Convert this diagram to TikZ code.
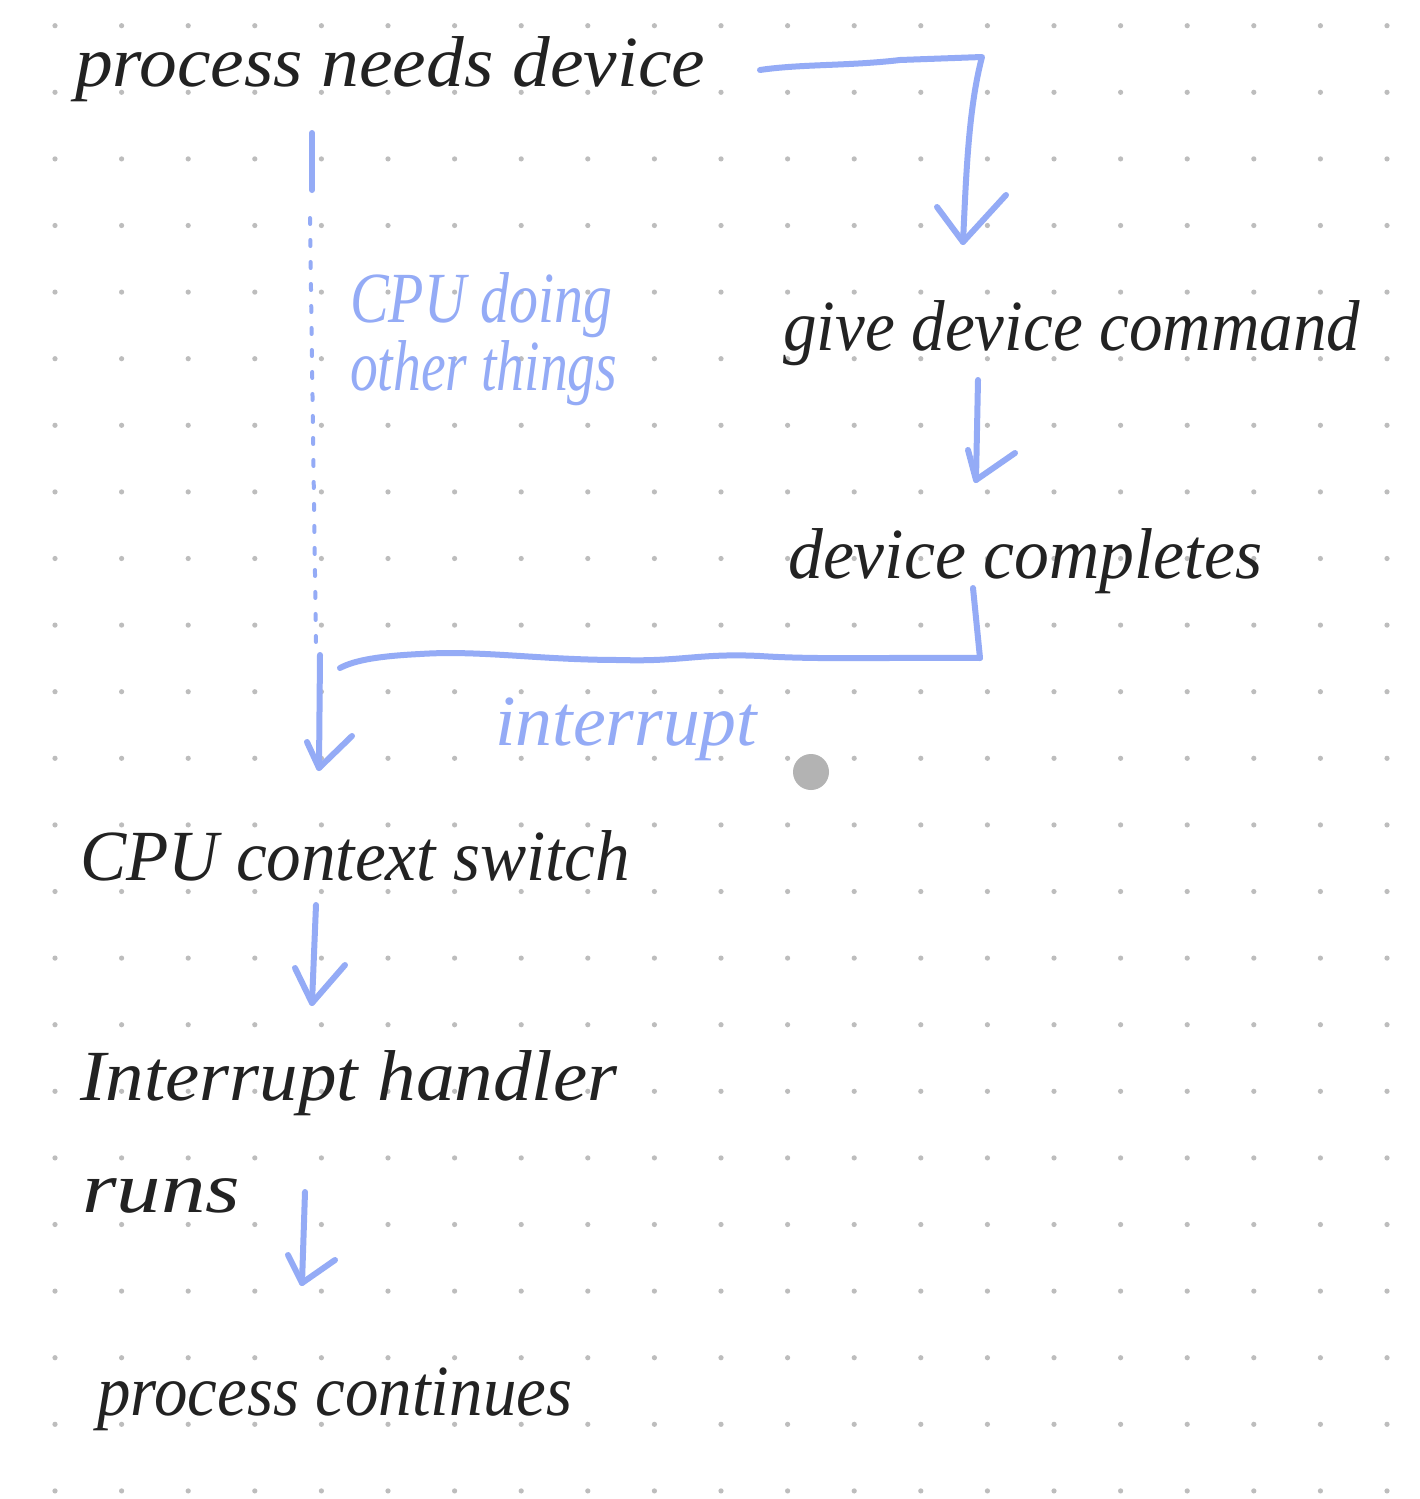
\documentclass[tikz,border=0pt]{standalone}
\usepackage{fontspec}
\setmainfont{Liberation Serif}
\usepackage{graphicx}
\definecolor{ink}{HTML}{222222}
\definecolor{pen}{HTML}{94ABF6}
\definecolor{gridc}{HTML}{BDBDBD}
\definecolor{blob}{HTML}{B3B3B3}
\newcommand\fitw[2]{\resizebox{#1pt}{\height}{#2}}
\begin{document}
\begin{tikzpicture}[x=1pt,y=-1pt,
  hand/.style={inner sep=0pt, anchor=base west, text=ink, font=\fontsize{72}{80}\selectfont\itshape},
  bluehand/.style={hand, text=pen},
  flow/.style={draw=pen, line width=6pt, line cap=round, line join=round},
  dotline/.style={draw=pen, line width=4pt, line cap=round, dash pattern=on 6pt off 16pt}]
\useasboundingbox (0,0) rectangle (1419,1499);
\fill[white] (0,0) rectangle (1419,1499);
\foreach \i in {0,...,20} \foreach \j in {0,...,22} \fill[gridc] ({55+66.6*\i},{25.7+66.6*\j}) circle (2.6);

% texts
\node[hand] (proc) at (75,86) {\fitw{630}{process needs device}};
\node[hand] (give) at (783,350) {\fitw{577}{give device command}};
\node[hand] (done) at (788,578) {\fitw{474}{device completes}};
\node[hand] (ctx) at (80,880) {\fitw{550}{CPU context switch}};
\node[hand] (handler) at (80,1100) {\fitw{537}{Interrupt handler}};
\node[hand] (runs) at (82,1212) {\fitw{158}{runs}};
\node[hand] (cont) at (97,1415) {\fitw{475}{process continues}};
\node[bluehand] (cpu1) at (350,322) {\fitw{262}{CPU doing}};
\node[bluehand] (cpu2) at (350,390) {\fitw{267}{other things}};
\node[bluehand] (intl) at (495,745) {\fitw{262}{interrupt}};

% top arrow: process needs device -> give device command
\coordinate (a1s) at (760,70);
\coordinate (a1c) at (982,57);
\coordinate (a1t) at (963,242);
\draw[flow] (a1s) .. controls (800,64) and (850,66) .. (900,60) -- (a1c) .. controls (968,110) and (966,180) .. (a1t);
\draw[flow] (937,207) -- (a1t) -- (1006,195);

% give device command -> device completes
\coordinate (a2s) at (978,380);
\coordinate (a2t) at (976,480);
\draw[flow] (a2s) -- (a2t);
\draw[flow] (968,450) -- (a2t) -- (1015,453);

% CPU waiting line
\coordinate (l0) at (312,133);
\coordinate (l1) at (312,190);
\coordinate (l2) at (310,218);
\coordinate (l3) at (316,645);
\draw[flow] (l0) -- (l1);
\draw[dotline] (l2) -- (l3);

% device completes -> interrupt line
\coordinate (b0) at (973,588);
\coordinate (b1) at (980,658);
\coordinate (b2) at (340,668);
\draw[flow] (b0) -- (b1);
\draw[flow] (b1) .. controls (900,657) and (820,660) .. (760,656) .. controls (700,653) and (680,662) .. (620,660) .. controls (540,660) and (480,650) .. (420,654) .. controls (380,656) and (355,660) .. (b2);

% down to CPU context switch
\coordinate (a3s) at (320,655);
\coordinate (a3t) at (319,768);
\draw[flow] (a3s) -- (a3t);
\draw[flow] (307,742) -- (a3t) -- (352,736);

% context switch -> handler
\coordinate (a4s) at (316,905);
\coordinate (a4t) at (312,1003);
\draw[flow] (a4s) -- (a4t);
\draw[flow] (295,968) -- (a4t) -- (345,965);

% handler -> process continues
\coordinate (a5s) at (305,1192);
\coordinate (a5t) at (302,1283);
\draw[flow] (a5s) -- (a5t);
\draw[flow] (288,1255) -- (a5t) -- (335,1260);

% grey marker
\fill[blob] (811,772) circle (18);
\end{tikzpicture}
\end{document}
